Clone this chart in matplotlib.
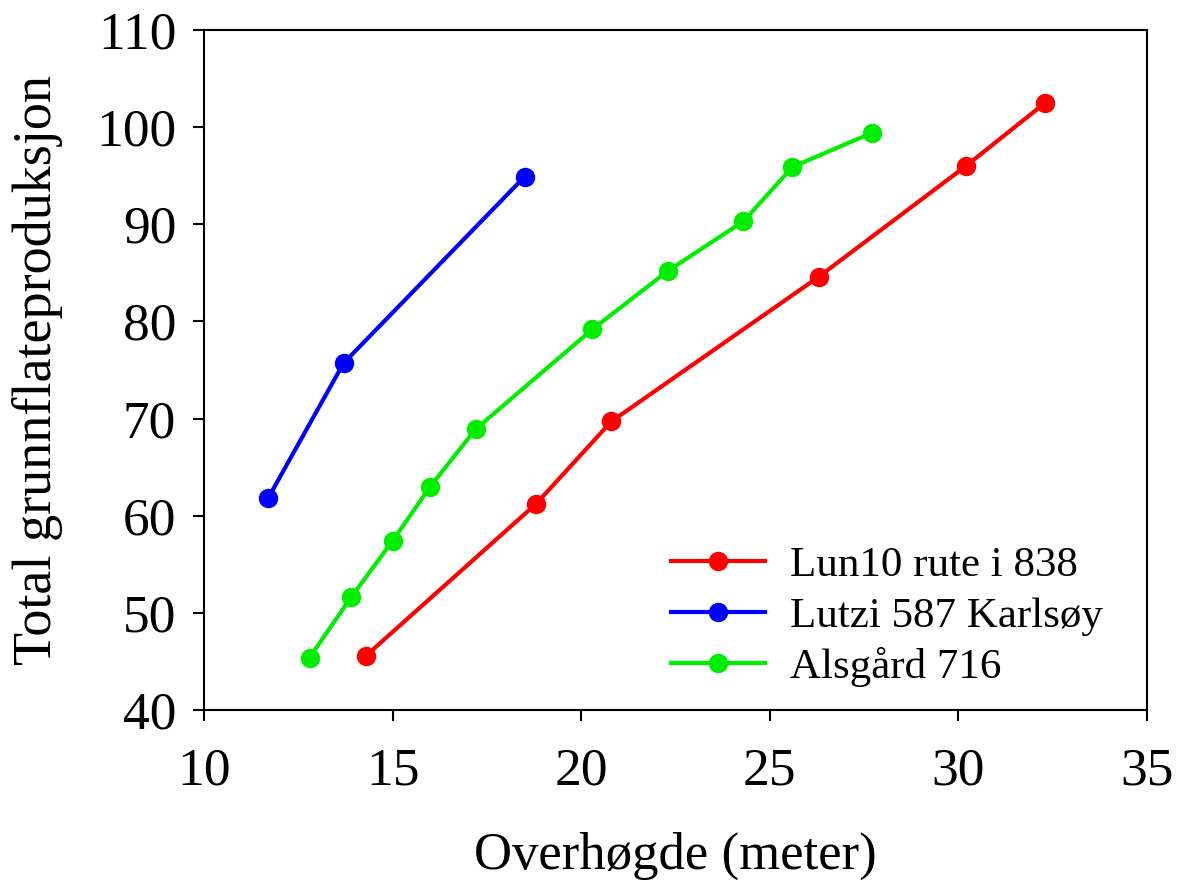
import matplotlib
matplotlib.use("Agg")
import matplotlib.pyplot as plt

plt.rcParams['font.family'] = ['Liberation Serif', 'DejaVu Serif']

lun_x = [14.3, 18.8, 20.8, 26.3, 30.2, 32.3]
lun_y = [45.6, 61.2, 69.7, 84.6, 96.0, 102.5]
lutzi_x = [11.7, 13.7, 18.5]
lutzi_y = [61.8, 75.7, 94.9]
als_x = [12.8, 13.9, 15.0, 16.0, 17.2, 20.3, 22.3, 24.3, 25.6, 27.7]
als_y = [45.4, 51.6, 57.4, 63.0, 68.9, 79.2, 85.2, 90.3, 95.9, 99.4]
labels = ["Lun10 rute i 838", "Lutzi 587 Karlsøy", "Alsgård 716"]
xticks = [10, 15, 20, 25, 30, 35]
yticks = [40, 50, 60, 70, 80, 90, 100, 110]

fig = plt.figure(figsize=(11.77, 8.88), dpi=100)
ax = fig.add_axes([0.1733, 0.2005, 0.9745 - 0.1733, 0.9662 - 0.2005])

kw = dict(linewidth=3.0, marker='o', markersize=13)
ax.plot(lun_x, lun_y, color='#ff0000', label=labels[0], **kw)
ax.plot(lutzi_x, lutzi_y, color='#0000ff', label=labels[1], **kw)
ax.plot(als_x, als_y, color='#00ee00', label=labels[2], **kw)

ax.set_xlim(10, 35)
ax.set_ylim(40, 110)
ax.set_xticks(xticks)
ax.set_yticks(yticks)
ax.tick_params(direction='out', length=8, width=1.5, labelsize=38.5, pad=12)
ax.tick_params(axis='x', pad=19)
for s in ax.spines.values():
    s.set_linewidth(1.5)

ax.set_xlabel("Overhøgde (meter)", fontsize=38, labelpad=26)
ax.set_ylabel("Total grunnflateproduksjon", fontsize=39, labelpad=24)

leg = ax.legend(loc='lower right', bbox_to_anchor=(0.981, -0.004), frameon=False,
                fontsize=31, handlelength=2.2, handletextpad=0.58, labelspacing=0.26,
                borderaxespad=0.2)

fig.savefig("out.png", dpi=100)
